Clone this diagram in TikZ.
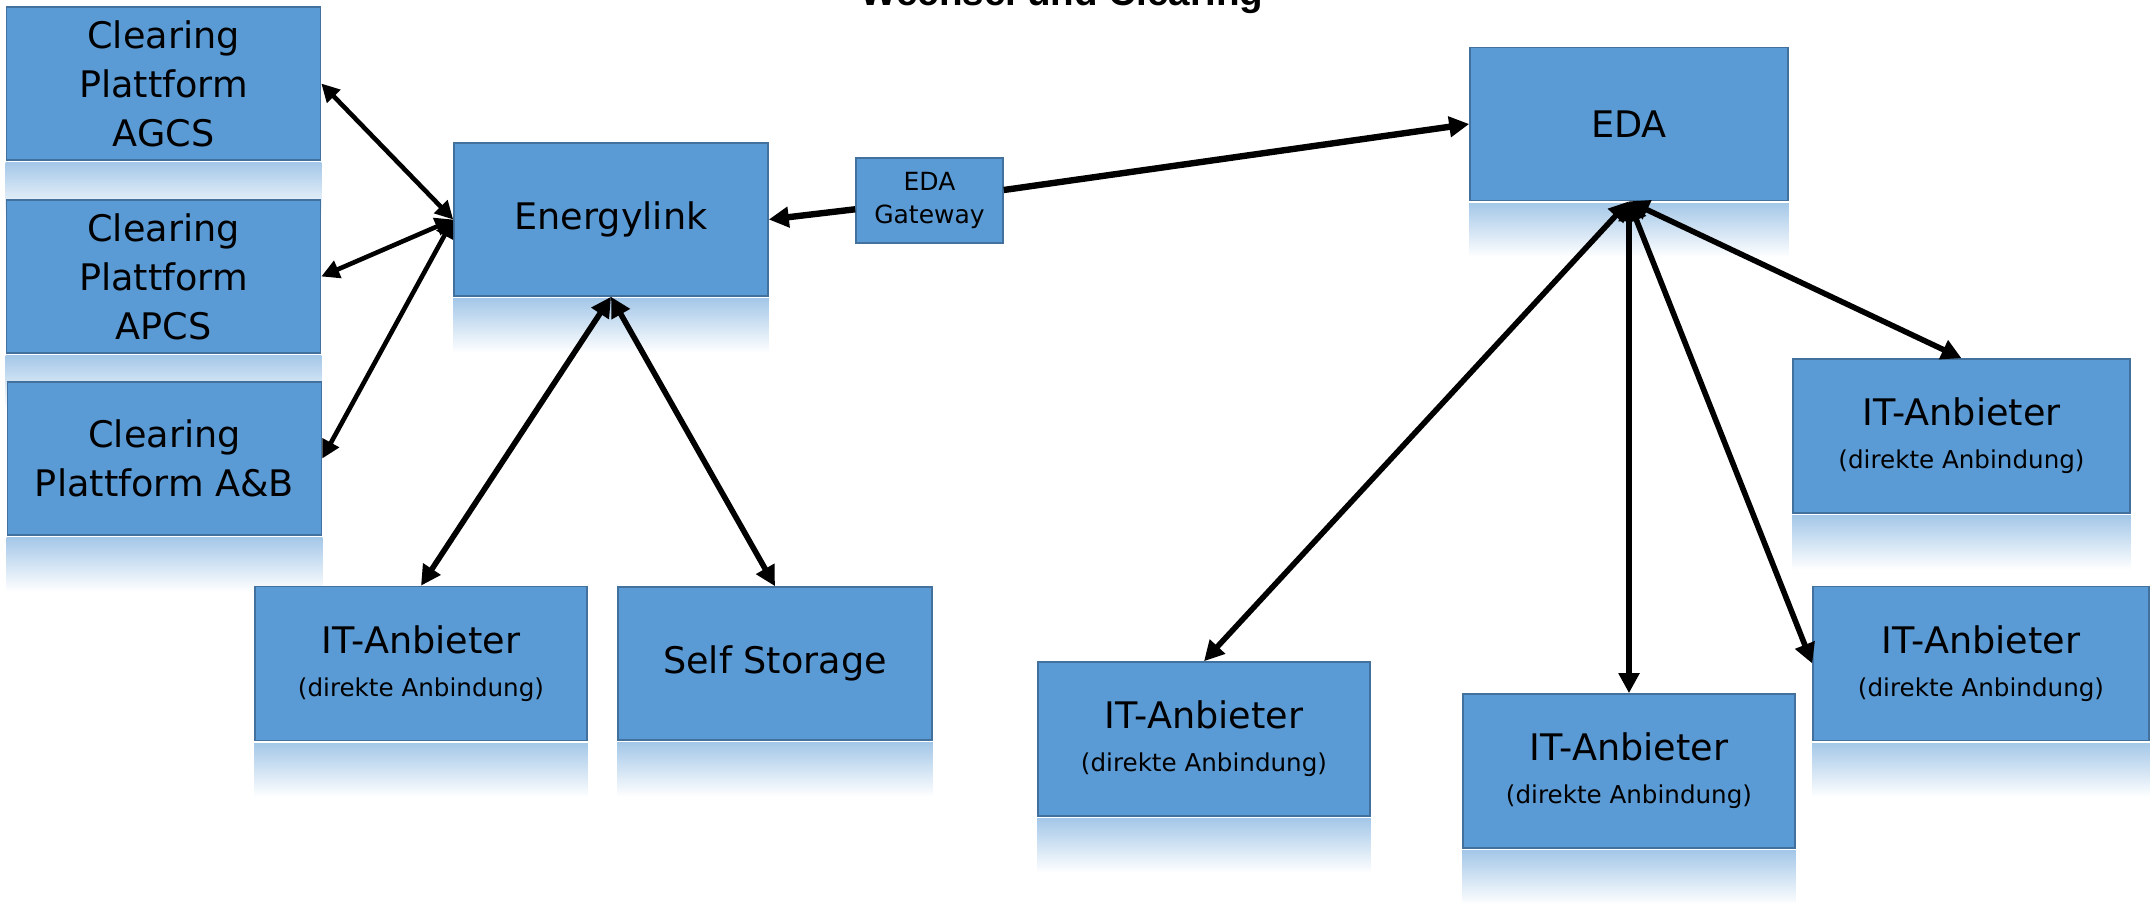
\documentclass[tikz,border=0pt]{standalone}
\usepackage{fontspec}
\setmainfont{DejaVu Sans}
\newfontfamily\titlefont{Liberation Sans}
\usetikzlibrary{arrows.meta,backgrounds}
\definecolor{boxblue}{HTML}{5B9BD5}
\definecolor{boxedge}{HTML}{41719C}
\tikzset{basic/.style={draw=boxedge,line width=0.8pt,fill=boxblue,align=center,inner sep=0pt,font=\fontsize{18.3pt}{24.5pt}\selectfont}}
\tikzset{platform/.style={basic,minimum width=157pt,minimum height=76.5pt}}
\tikzset{provider/.style={basic,minimum width=166pt,minimum height=77pt}}
\tikzset{gateway/.style={basic,minimum width=73.5pt,minimum height=42.5pt,font=\fontsize{12.5pt}{16.5pt}\selectfont}}
\tikzset{thinlink/.style={line width=2.3pt,{Triangle[length=9pt,width=9pt]}-{Triangle[length=9pt,width=9pt]}}}
\tikzset{thicklink/.style={line width=2.8pt,{Triangle[length=10pt,width=10pt]}-{Triangle[length=10pt,width=10pt]}}}
\tikzset{mirror/.style={top color=boxblue!55!white,bottom color=white,draw=none}}
\newcommand{\anbindung}{\\[-3pt]{\fontsize{12.3pt}{18pt}\selectfont (direkte Anbindung)}}

\begin{document}
\begin{tikzpicture}[x=0.5pt,y=-0.5pt]
    \useasboundingbox (0,0) rectangle (2152,903);
    \node[font=\titlefont\fontsize{19.3pt}{22pt}\selectfont\bfseries,anchor=base] (title) at (1062,6) {Wechsel und Clearing};
    \node[platform] (agcs) at (163.5,83.5) {Clearing\\Plattform\\AGCS};
    \node[platform] (apcs) at (163.5,276.5) {Clearing\\Plattform\\APCS};
    \node[platform] (anb) at (164.5,458.5) {Clearing\\Plattform A\&B};
    \node[platform] (elink) at (611,219.5) {Energylink};
    \node[gateway] (gw) at (929.5,200.5) {EDA\\Gateway};
    \node[platform,minimum width=159pt] (eda) at (1629,124) {EDA};
    \node[provider] (itl) at (421,663.5) {IT-Anbieter\anbindung};
    \node[platform] (store) at (775,663.5) {Self Storage};
    \node[provider] (ita) at (1204,739) {IT-Anbieter\anbindung};
    \node[provider] (itb) at (1629,771) {IT-Anbieter\anbindung};
    \node[provider,minimum width=168.5pt] (itc) at (1961.5,436) {IT-Anbieter\anbindung};
    \node[provider,minimum width=168pt] (itd) at (1981,663.5) {IT-Anbieter\anbindung};
    \begin{scope}[on background layer]
        \foreach \n in {agcs,apcs,anb,elink,eda,itl,store,ita,itb,itc,itd}
            \shade[mirror] ([yshift=-1pt]\n.south west) rectangle ([yshift=-28pt]\n.south east);
    \end{scope}
    \draw[thinlink] (agcs.east) -- (elink.west);
    \draw[thinlink] (apcs.east) -- (elink.west);
    \draw[thinlink] (anb.east) -- (elink.west);
    \draw[thicklink] (elink.south) -- (itl.north);
    \draw[thicklink] (elink.south) -- (store.north);
    \draw[thicklink,line width=3.2pt,{Triangle[length=10pt,width=10pt]}-] (elink.east) -- (gw);
    \draw[thicklink,line width=3.2pt,-{Triangle[length=10pt,width=10pt]}] (gw) -- (eda.west);
    \draw[thicklink] (eda.south) -- (ita.north);
    \draw[thicklink] (eda.south) -- (itb.north);
    \draw[thicklink] (eda.south) -- (itc.north);
    \draw[thicklink] (eda.south) -- (itd.west);
\end{tikzpicture}
\end{document}
